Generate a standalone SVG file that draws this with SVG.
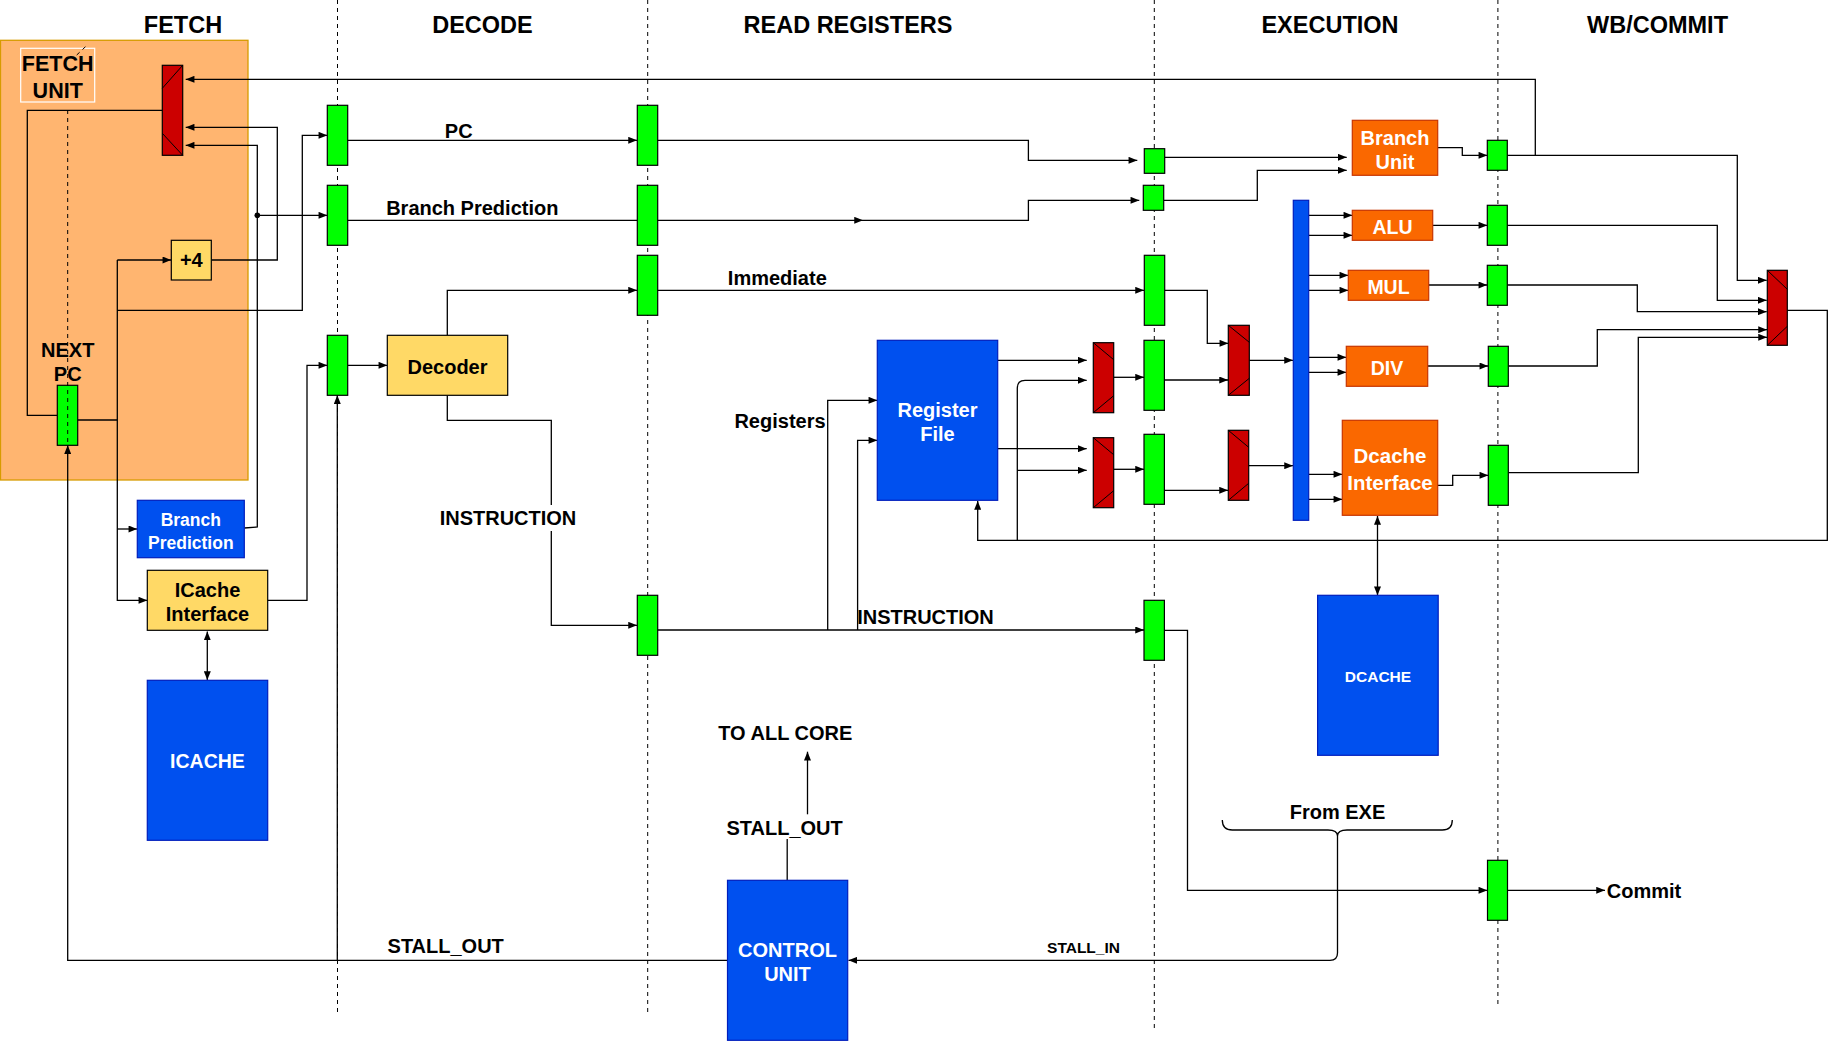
<svg xmlns="http://www.w3.org/2000/svg" width="1837" height="1041" viewBox="0 0 1837 1041">
<style>
.t{font-family:"Liberation Sans",Arial,Helvetica,sans-serif;font-weight:bold;text-anchor:middle}
.k{fill:#000}
.w{fill:#fff}
.reg{fill:#00FF00;stroke:#000;stroke-width:1.2}
.mux{fill:#CC0000;stroke:#000;stroke-width:1.2}
.ml{fill:none;stroke:#000;stroke-width:1}
.blue{fill:#0050EF;stroke:#001DBC;stroke-width:1.2}
.orange{fill:#FA6800;stroke:#C73500;stroke-width:1.2}
.yellow{fill:#FFD966;stroke:#000;stroke-width:1.2}
.c{fill:none;stroke:#000;stroke-width:1.3}
.ca{fill:none;stroke:#000;stroke-width:1.3;marker-end:url(#a)}
.cb{fill:none;stroke:#000;stroke-width:1.3;marker-end:url(#a);marker-start:url(#a)}
.dash{fill:none;stroke:#000;stroke-width:1;stroke-dasharray:4 4}
</style>
<defs>
<marker id="a" viewBox="0 0 10 8" refX="10" refY="4" markerWidth="9" markerHeight="7" markerUnits="userSpaceOnUse" orient="auto-start-reverse">
<path d="M0,0 L10,4 L0,8 z" fill="#000"/>
</marker>
</defs>
<rect width="1837" height="1041" fill="#fff"/>

<!-- Fetch unit background -->
<g id="fetch-unit">
<rect x="0.5" y="40.3" width="247.5" height="439.7" fill="#FFB570" stroke="#D79B00" stroke-width="1.3"/>
<rect x="20.7" y="48.3" width="74" height="53.7" fill="none" stroke="#fff" stroke-width="1.2"/>
<text class="t k" x="57.7" y="71" font-size="21.5">FETCH</text>
<text class="t k" x="57.7" y="97.7" font-size="21.5">UNIT</text>
<text class="t k" x="67.7" y="357.3" font-size="20">NEXT</text>
<text class="t k" x="67.7" y="380.7" font-size="20">PC</text>
</g>

<!-- Stage headers -->
<g id="headers">
<text class="t k" x="183" y="33" font-size="23.5">FETCH</text>
<text class="t k" x="482.5" y="33" font-size="23.5">DECODE</text>
<text class="t k" x="848" y="33" font-size="23.5">READ REGISTERS</text>
<text class="t k" x="1330" y="33" font-size="23.5">EXECUTION</text>
<text class="t k" x="1657.5" y="33" font-size="23.5">WB/COMMIT</text>
</g>

<!-- Stage separators -->
<g id="separators">
<line class="dash" x1="337.5" y1="0" x2="337.5" y2="1016"/>
<line class="dash" x1="647.7" y1="0" x2="647.7" y2="1016"/>
<line class="dash" x1="1154.3" y1="0" x2="1154.3" y2="1031"/>
<line class="dash" x1="1497.9" y1="0" x2="1497.9" y2="1004"/>
</g>

<!-- Connectors -->
<g id="connectors">
<path class="ca" d="M1535.3,155.3 L1535.3,79.3 L185.7,79.3"/>
<path class="c" d="M162.3,110.3 L27.3,110.3 L27.3,415.3 L57.3,415.3"/>
<path class="c" d="M77.7,420 L117.3,420"/>
<path class="ca" d="M117.3,260 L117.3,600.3 L147.3,600.3"/>
<path class="ca" d="M117.3,260 L171.3,260"/>
<path class="ca" d="M117.3,310.3 L302.3,310.3 L302.3,135.3 L327.3,135.3"/>
<path class="ca" d="M117.3,529 L137.3,529"/>
<path class="ca" d="M211.3,260 L277.3,260 L277.3,127.3 L185.7,127.3"/>
<path class="ca" d="M244.3,528 L257.3,527 L257.3,145.3 L185.7,145.3"/>
<circle cx="257.3" cy="215.3" r="2.8" fill="#000"/>
<path class="ca" d="M257.3,215.3 L327.3,215.3"/>
<path class="ca" d="M267.7,600.3 L307,600.3 L307,365.3 L327.3,365.3"/>
<path class="cb" d="M207.3,631.5 L207.3,680"/>
<path class="ca" d="M347.7,365.3 L387.3,365.3"/>
<path class="ca" d="M347.7,140.3 L637,140.3"/>
<path class="c" d="M347.7,220.3 L637.3,220.3"/>
<path class="ca" d="M447.3,335.3 L447.3,290.3 L637,290.3"/>
<path class="ca" d="M447.3,395.3 L447.3,420.3 L551.3,420.3 L551.3,625.3 L637,625.3"/>
<path class="ca" d="M657.7,140.3 L1028.4,140.3 L1028.4,160.3 L1137.3,160.3"/>
<path class="ca" d="M657.7,220.3 L863,220.3"/>
<path class="ca" d="M863,220.3 L1028.4,220.3 L1028.4,200.3 L1139.3,200.3"/>
<path class="ca" d="M657.7,290.3 L1144,290.3"/>
<path class="ca" d="M657.7,630 L1144,630"/>
<path class="ca" d="M827.7,630 L827.7,400.3 L877.3,400.3"/>
<path class="ca" d="M857.6,630 L857.6,440.3 L877.3,440.3"/>
<path class="ca" d="M997.7,360.3 L1086.7,360.3"/>
<path class="ca" d="M997.7,448.7 L1086.7,448.7"/>
<path class="ca" d="M1787.3,310.3 L1827.3,310.3 L1827.3,540.3 L977.7,540.3 L977.7,501"/>
<path class="ca" d="M1017.3,540.3 L1017.3,388 Q1017.3,380.3 1025,380.3 L1086.7,380.3"/>
<path class="ca" d="M1017.3,470.3 L1086.7,470.3"/>
<path class="ca" d="M1113.7,377.3 L1144,377.3"/>
<path class="ca" d="M1113.7,469.3 L1144,469.3"/>
<path class="ca" d="M1164.3,380 L1228,380"/>
<path class="ca" d="M1164.3,490.3 L1228,490.3"/>
<path class="ca" d="M1164.7,290.3 L1207.3,290.3 L1207.3,343.3 L1228.3,343.3"/>
<path class="ca" d="M1249.3,360.3 L1293,360.3"/>
<path class="ca" d="M1248.7,465.7 L1293,465.7"/>
<path class="ca" d="M1164.7,157.3 L1346.7,157.3"/>
<path class="ca" d="M1163.7,200.3 L1257.3,200.3 L1257.3,170.3 L1346.7,170.3"/>
<path class="ca" d="M1308.7,215.3 L1352.3,215.3"/>
<path class="ca" d="M1308.7,235.3 L1352.3,235.3"/>
<path class="ca" d="M1308.7,275.3 L1348.3,275.3"/>
<path class="ca" d="M1308.7,290.3 L1348.3,290.3"/>
<path class="ca" d="M1308.7,357.3 L1346.3,357.3"/>
<path class="ca" d="M1308.7,372.3 L1346.3,372.3"/>
<path class="ca" d="M1308.7,474.3 L1342.3,474.3"/>
<path class="ca" d="M1308.7,499.3 L1342.3,499.3"/>
<path class="ca" d="M1437.7,147.7 L1462.3,147.7 L1462.3,155.3 L1487.3,155.3"/>
<path class="ca" d="M1432.7,225.3 L1487.3,225.3"/>
<path class="ca" d="M1428.7,285 L1487.3,285"/>
<path class="ca" d="M1427.7,366 L1488.3,366"/>
<path class="ca" d="M1437.7,485.3 L1452.7,485.3 L1452.7,475.3 L1488.3,475.3"/>
<path class="ca" d="M1507.3,155.3 L1737.3,155.3 L1737.3,280.3 L1766.7,280.3"/>
<path class="ca" d="M1507.3,225.3 L1717.3,225.3 L1717.3,300.3 L1766.7,300.3"/>
<path class="ca" d="M1507.3,285 L1637.3,285 L1637.3,311.7 L1766.7,311.7"/>
<path class="ca" d="M1508.3,366 L1597.3,366 L1597.3,329.7 L1767,329.7"/>
<path class="ca" d="M1508.3,472.7 L1638.3,472.7 L1638.3,337.3 L1767,337.3"/>
<path class="cb" d="M1377.5,516 L1377.5,595.3"/>
<path class="ca" d="M1164.5,630.3 L1187.5,630.3 L1187.5,890.3 L1487.3,890.3"/>
<path class="ca" d="M1507.4,890.3 L1605,890.3"/>
<path class="c" d="M1222.3,820 Q1222.3,830 1232.3,830 L1328,830 Q1337.5,830 1337.5,836 Q1337.5,830 1347,830 L1442.3,830 Q1452.3,830 1452.3,820"/>
<path class="ca" d="M1337.5,836 L1337.5,953 Q1337.5,960.3 1330,960.3 L848.5,960.3"/>
<path class="ca" d="M727.5,960.3 L67.7,960.3 L67.7,445.3"/>
<path class="ca" d="M337.3,960.3 L337.3,395.3"/>
<path class="c" d="M787.2,880.3 L787.2,839"/>
<path class="ca" d="M807.5,814.3 L807.5,751.7"/>
</g>

<!-- Fetch mux -->
<g id="fetch-mux">
<rect class="mux" x="162.3" y="65.3" width="20.4" height="90"/>
<path class="ml" d="M162.3,88.3 L182.7,65.3 M162.3,133.3 L182.7,155.3"/>
</g>
<g id="next-pc-reg"><rect class="reg" x="57.3" y="385.3" width="20.4" height="60"/></g>
<g id="plus4">
<rect class="yellow" x="171.3" y="240.3" width="40" height="39.7"/>
<text class="t k" x="191.3" y="267" font-size="20">+4</text>
</g>
<g id="branch-prediction">
<rect class="blue" x="137.3" y="500.3" width="107" height="57.4"/>
<text class="t w" x="190.8" y="526" font-size="17.5">Branch</text>
<text class="t w" x="190.8" y="548.5" font-size="17.5">Prediction</text>
</g>
<g id="icache-interface">
<rect class="yellow" x="147.3" y="570.3" width="120.4" height="60"/>
<text class="t k" x="207.5" y="596.7" font-size="20">ICache</text>
<text class="t k" x="207.5" y="621" font-size="20">Interface</text>
</g>
<g id="icache">
<rect class="blue" x="147.3" y="680.3" width="120.4" height="160"/>
<text class="t w" x="207.5" y="768.3" font-size="19.5">ICACHE</text>
</g>

<!-- Fetch/Decode registers -->
<g id="fd-pc-reg"><rect class="reg" x="327.3" y="105.3" width="20.4" height="60"/></g>
<g id="fd-bp-reg"><rect class="reg" x="327.3" y="185.3" width="20.4" height="60"/></g>
<g id="fd-instr-reg"><rect class="reg" x="327.3" y="335.3" width="20.4" height="60"/></g>

<g id="decoder">
<rect class="yellow" x="387.3" y="335.3" width="120.4" height="60"/>
<text class="t k" x="447.5" y="374.3" font-size="20">Decoder</text>
</g>

<!-- Decode/RR registers -->
<g id="dr-pc-reg"><rect class="reg" x="637.3" y="105.3" width="20.4" height="60"/></g>
<g id="dr-bp-reg"><rect class="reg" x="637.3" y="185.3" width="20.4" height="60"/></g>
<g id="dr-imm-reg"><rect class="reg" x="637.3" y="255.3" width="20.4" height="60"/></g>
<g id="dr-instr-reg"><rect class="reg" x="637.3" y="595.3" width="20.4" height="60"/></g>

<g id="register-file">
<rect class="blue" x="877.3" y="340.3" width="120.4" height="160"/>
<text class="t w" x="937.5" y="417" font-size="20">Register</text>
<text class="t w" x="937.5" y="440.7" font-size="20">File</text>
</g>
<g id="mux1">
<rect class="mux" x="1093.3" y="342.7" width="20.4" height="70"/>
<path class="ml" d="M1093.3,342.7 L1113.7,359.7 M1093.3,412.7 L1113.7,395.7"/>
</g>
<g id="mux2">
<rect class="mux" x="1093.3" y="437.7" width="20.4" height="70"/>
<path class="ml" d="M1093.3,437.7 L1113.7,454.7 M1093.3,507.7 L1113.7,490.7"/>
</g>

<!-- RR/EX registers -->
<g id="re-pc-reg"><rect class="reg" x="1144.3" y="148.7" width="20.4" height="24.6"/></g>
<g id="re-bp-reg"><rect class="reg" x="1143.3" y="185.3" width="20.4" height="25"/></g>
<g id="re-imm-reg"><rect class="reg" x="1144.3" y="255.3" width="20.4" height="70"/></g>
<g id="re-op1-reg"><rect class="reg" x="1144" y="340.3" width="20.4" height="70"/></g>
<g id="re-op2-reg"><rect class="reg" x="1144" y="434.3" width="20.4" height="70"/></g>
<g id="re-instr-reg"><rect class="reg" x="1144" y="600.3" width="20.4" height="60"/></g>

<g id="mux3">
<rect class="mux" x="1228.3" y="325.3" width="21" height="70"/>
<path class="ml" d="M1228.3,325.3 L1249.3,342.3 M1228.3,395.3 L1249.3,378.3"/>
</g>
<g id="mux4">
<rect class="mux" x="1228.3" y="430.3" width="20.4" height="70"/>
<path class="ml" d="M1228.3,430.3 L1248.7,447.3 M1228.3,500.3 L1248.7,483.3"/>
</g>
<g id="bus"><rect class="blue" x="1293.3" y="200.3" width="15.4" height="320"/></g>

<g id="branch-unit">
<rect class="orange" x="1352.3" y="120.3" width="85.4" height="55"/>
<text class="t w" x="1395" y="145" font-size="20">Branch</text>
<text class="t w" x="1395" y="169" font-size="20">Unit</text>
</g>
<g id="alu">
<rect class="orange" x="1352.3" y="210.3" width="80.4" height="30"/>
<text class="t w" x="1392.5" y="233.5" font-size="19.5">ALU</text>
</g>
<g id="mul">
<rect class="orange" x="1348.3" y="270.3" width="80.4" height="30"/>
<text class="t w" x="1388.5" y="294" font-size="19.5">MUL</text>
</g>
<g id="div">
<rect class="orange" x="1346.3" y="346.3" width="81.4" height="40"/>
<text class="t w" x="1387" y="374.5" font-size="19.5">DIV</text>
</g>
<g id="dcache-interface">
<rect class="orange" x="1342.3" y="420.3" width="95.4" height="95"/>
<text class="t w" x="1390" y="463.3" font-size="20.5">Dcache</text>
<text class="t w" x="1390" y="490" font-size="20.5">Interface</text>
</g>
<g id="dcache">
<rect class="blue" x="1317.6" y="595.3" width="120.6" height="160"/>
<text class="t w" x="1378" y="682.3" font-size="15.5">DCACHE</text>
</g>

<!-- WB registers -->
<g id="wb-branch-reg"><rect class="reg" x="1487.3" y="140.3" width="20" height="30"/></g>
<g id="wb-alu-reg"><rect class="reg" x="1487.3" y="205.3" width="20" height="40"/></g>
<g id="wb-mul-reg"><rect class="reg" x="1487.3" y="265.3" width="20" height="40"/></g>
<g id="wb-div-reg"><rect class="reg" x="1488.3" y="346.3" width="20" height="40"/></g>
<g id="wb-mem-reg"><rect class="reg" x="1488.3" y="445.3" width="20" height="60"/></g>
<g id="wb-commit-reg"><rect class="reg" x="1487.5" y="860.3" width="20" height="60"/></g>
<g id="wb-mux">
<rect class="mux" x="1767.3" y="270.3" width="20" height="75"/>
<path class="ml" d="M1767.3,270.3 L1787.3,289.3 M1767.3,345.3 L1787.3,326.3"/>
</g>

<g id="control-unit">
<rect class="blue" x="727.5" y="880.3" width="120.2" height="160"/>
<text class="t w" x="787.5" y="956.7" font-size="20">CONTROL</text>
<text class="t w" x="787.5" y="980.7" font-size="20">UNIT</text>
</g>

<!-- Fetch box internal dashed line -->
<line class="dash" x1="67.7" y1="110" x2="67.7" y2="445"/>
<line class="dash" x1="76.7" y1="55" x2="87.3" y2="45"/>

<!-- Labels -->
<g id="labels">
<text class="t k" x="458.7" y="138.3" font-size="20">PC</text>
<text class="t k" x="472.3" y="215" font-size="20">Branch Prediction</text>
<text class="t k" x="777.3" y="284.5" font-size="20">Immediate</text>
<text class="t k" x="780" y="427.7" font-size="20">Registers</text>
<rect x="440" y="505" width="136" height="26" fill="#fff"/>
<text class="t k" x="508" y="525" font-size="20">INSTRUCTION</text>
<text class="t k" x="925.5" y="624" font-size="20">INSTRUCTION</text>
<text class="t k" x="785.3" y="740" font-size="20">TO ALL CORE</text>
<text class="t k" x="784.6" y="835.3" font-size="20">STALL_OUT</text>
<text class="t k" x="445.7" y="953" font-size="20">STALL_OUT</text>
<text class="t k" x="1083.5" y="953.3" font-size="15.5">STALL_IN</text>
<text class="t k" x="1337.5" y="819.3" font-size="20">From EXE</text>
<text class="t k" x="1644" y="898.3" font-size="20">Commit</text>
</g>
</svg>
